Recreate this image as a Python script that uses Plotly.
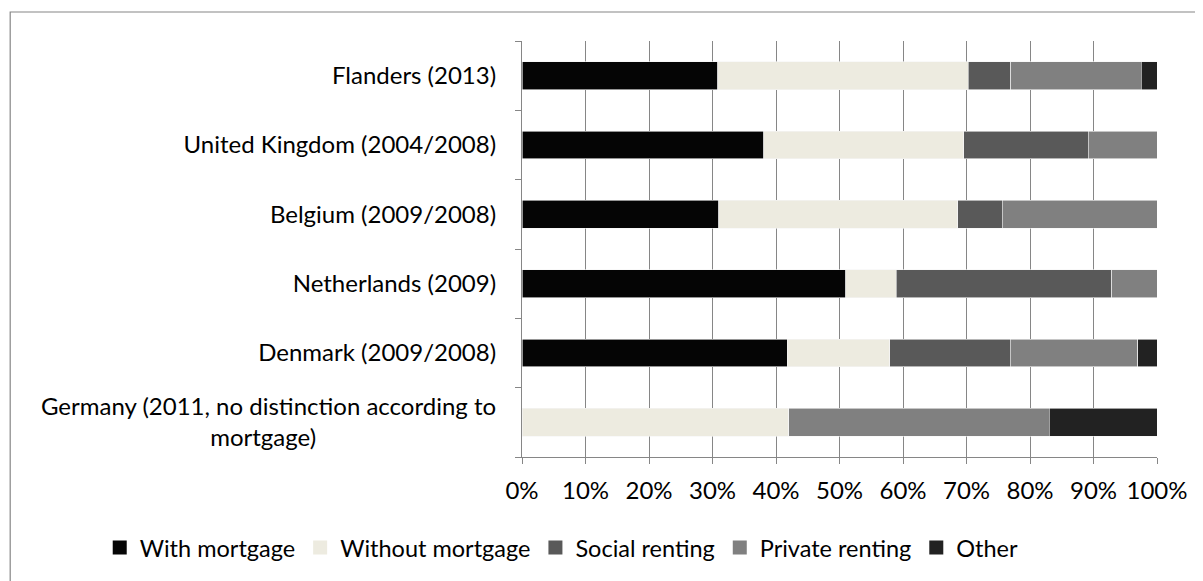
import plotly.graph_objects as go

categories = [
    "Germany (2011, no distinction according to<br>mortgage)" + "\u2002" * 15,
    "Denmark (2009/2008)",
    "Netherlands (2009)",
    "Belgium (2009/2008)",
    "United Kingdom (2004/2008)",
    "Flanders (2013)",
]
with_mortgage = [0.0, 41.8, 51.0, 31.0, 38.1, 30.8]
without_mortgage = [42.0, 16.1, 7.9, 37.6, 31.5, 39.5]
social_renting = [0.0, 19.0, 34.0, 7.0, 19.6, 6.7]
private_renting = [41.0, 20.1, 7.1, 24.4, 10.8, 20.5]
other = [17.0, 3.0, 0.0, 0.0, 0.0, 2.5]

x_ticks = [0, 10, 20, 30, 40, 50, 60, 70, 80, 90, 100]
x_ticklabels = [f"{v}%" for v in x_ticks]

series = [
    ("With mortgage", with_mortgage, "#050505"),
    ("Without mortgage", without_mortgage, "#EDEBE0"),
    ("Social renting", social_renting, "#595959"),
    ("Private renting", private_renting, "#808080"),
    ("Other", other, "#222222"),
]

FONT = "Lato"
FS = 24

fig = go.Figure()
for name, vals, col in series:
    fig.add_trace(go.Bar(
        y=categories, x=vals, name=name, orientation="h",
        marker=dict(color=col, line=dict(color="#F5F5F5", width=0.6)),
        hoverinfo="x+name", showlegend=False,
    ))
# legend entries with larger square swatches
for name, vals, col in series:
    fig.add_trace(go.Scatter(
        x=[None], y=[None], mode="markers", name=name,
        marker=dict(symbol="square", size=14, color=col, line=dict(width=0)),
        showlegend=True, hoverinfo="skip",
    ))

fig.update_layout(
    barmode="stack",
    bargap=0.6,
    width=1195, height=573,
    margin=dict(l=514, r=46, t=33, b=124, autoexpand=False),
    paper_bgcolor="white",
    plot_bgcolor="white",
    font=dict(family=FONT, size=FS, color="#000000"),
    showlegend=True,
    legend=dict(
        orientation="h", x=-0.665, xanchor="left", y=-0.218, yanchor="middle",
        font=dict(family=FONT, size=23.5),
        traceorder="normal", bgcolor="rgba(0,0,0,0)",
    ),
    shapes=[dict(
        type="rect", xref="paper", yref="paper",
        x0=-0.806, x1=1.3, y0=-0.5, y1=1.0697,
        line=dict(color="#868686", width=1.2), fillcolor="rgba(0,0,0,0)", layer="below",
    )],
)

fig.update_xaxes(
    range=[0, 100], tickvals=x_ticks, ticktext=x_ticklabels,
    showgrid=True, gridcolor="#868686", gridwidth=1.2,
    showline=True, linecolor="#868686", linewidth=1.2,
    ticks="outside", ticklen=6, tickcolor="#868686",
    zeroline=False, tickfont=dict(size=FS), ticklabelstandoff=6, automargin=False,
)
fig.update_yaxes(
    type="category", categoryorder="array", categoryarray=categories,
    showline=True, linecolor="#868686", linewidth=1.2,
    ticks="outside", ticklen=6, tickcolor="#868686", tickson="boundaries",
    showgrid=False, tickfont=dict(size=FS), ticklabelstandoff=20, automargin=False,
)

fig.write_html("out.html")
